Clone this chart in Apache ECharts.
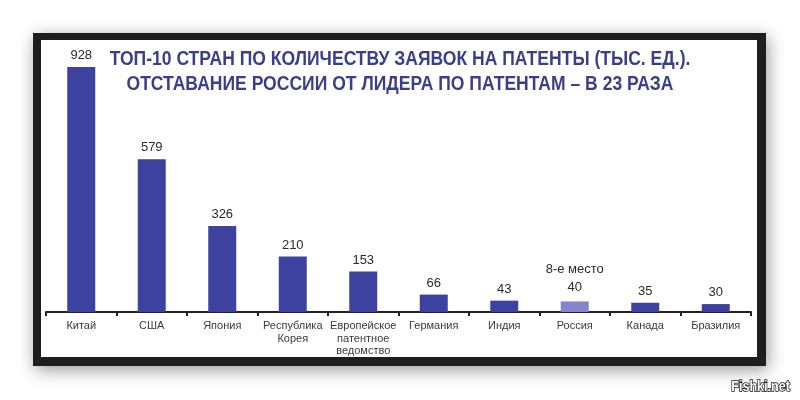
<!DOCTYPE html>
<html>
<head>
<meta charset="utf-8">
<script src="https://cdn.jsdelivr.net/npm/echarts@6/dist/echarts.min.js"></script>
<style>
html,body{margin:0;padding:0;background:#fff;}
#c{width:800px;height:400px;}
</style>
</head>
<body>
<div id="c"></div>
<script>
const titleLines = ['ТОП-10 СТРАН ПО КОЛИЧЕСТВУ ЗАЯВОК НА ПАТЕНТЫ (ТЫС. ЕД.).', 'ОТСТАВАНИЕ РОССИИ ОТ ЛИДЕРА ПО ПАТЕНТАМ – В 23 РАЗА'];
const categories = ['Китай', 'США', 'Япония', 'Республика\nКорея', 'Европейское\nпатентное\nведомство', 'Германия', 'Индия', 'Россия', 'Канада', 'Бразилия'];
const values = [928, 579, 326, 210, 153, 66, 43, 40, 35, 30];
const highlightCategory = 'Россия';
const highlightNote = '8-е место';
const watermark = 'Fishki.net';

const FONT = '"Liberation Sans", Arial, sans-serif';
const BAR = '#3d41a0';
const BAR_HL = '#8883cf';

const chart = echarts.init(document.getElementById('c'), null, {renderer: 'canvas'});

const data = values.map((v, i) => {
  const item = {value: v};
  if (categories[i] === highlightCategory) {
    item.itemStyle = {color: BAR_HL};
    item.label = {formatter: highlightNote + '\n{c}', lineHeight: 18};
  }
  return item;
});

chart.setOption({
  backgroundColor: '#ffffff',
  animation: false,
  graphic: [
    {type: 'rect', shape: {x: 33, y: 33, width: 733, height: 333}, style: {fill: '#1e1e1e', shadowBlur: 16, shadowColor: 'rgba(0,0,0,0.4)', shadowOffsetX: 2, shadowOffsetY: 4}, z: -10},
    {type: 'rect', shape: {x: 41, y: 40, width: 716, height: 317}, style: {fill: '#ffffff'}, z: -9},
    {type: 'text', x: 400, y: 47, scaleX: 0.835, style: {text: titleLines.join('\n'), fill: '#3b3f8a', font: 'bold 21px ' + FONT, textAlign: 'center', textVerticalAlign: 'top', lineHeight: 25}, z: 5},
    {type: 'text', x: 790, y: 380, scaleX: 0.9, style: {text: watermark, fill: '#ffffff', stroke: '#111', lineWidth: 1.5, font: 'bold 14px ' + FONT, textAlign: 'right', textVerticalAlign: 'top'}, z: 5}
  ],
  grid: {left: 46, right: 49, top: 48, bottom: 88, containLabel: false},
  xAxis: {
    type: 'category',
    data: categories,
    axisLine: {show: true, lineStyle: {color: '#222', width: 2}},
    axisTick: {show: true, length: 4, lineStyle: {color: '#222', width: 2}},
    axisLabel: {interval: 0, color: '#3a3a3a', fontSize: 11, fontFamily: FONT, lineHeight: 12.5, margin: 8}
  },
  yAxis: {type: 'value', min: 0, max: 1000, show: false, splitLine: {show: false}},
  series: [{
    type: 'bar',
    data: data,
    barWidth: 28,
    itemStyle: {color: BAR},
    label: {show: true, position: 'top', distance: 5, color: '#2a2a2a', fontSize: 13, fontFamily: FONT}
  }]
});
</script>
</body>
</html>
